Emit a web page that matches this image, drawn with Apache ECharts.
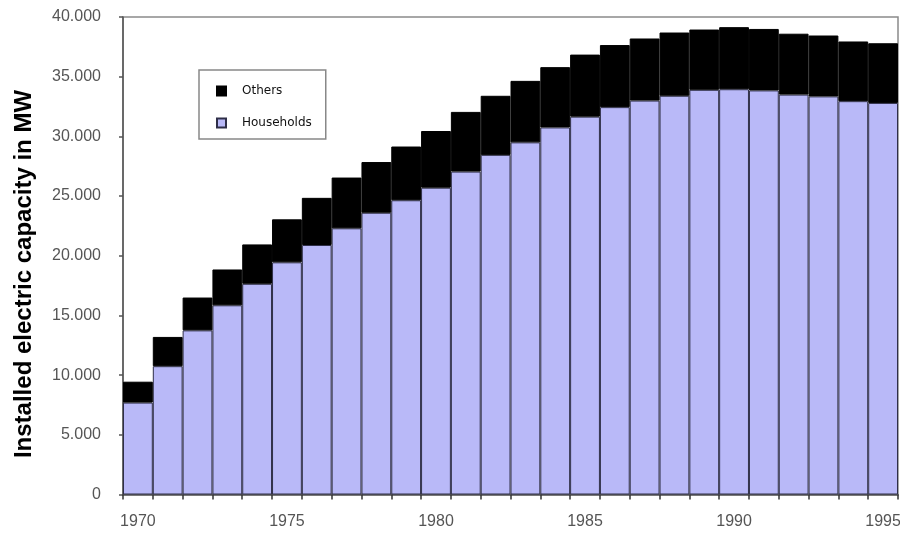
<!DOCTYPE html>
<html>
<head>
<meta charset="utf-8">
<script src="https://cdn.jsdelivr.net/npm/echarts@6/dist/echarts.min.js"></script>
<style>
html,body{margin:0;padding:0;background:#fff;}
#chart{width:900px;height:533px;}
</style>
</head>
<body>
<div id="chart"></div>
<script>
var years = ['1970','1971','1972','1973','1974','1975','1976','1977','1978','1979','1980','1981','1982','1983','1984','1985','1986','1987','1988','1989','1990','1991','1992','1993','1994','1995'];
var households = [7700,10750,13750,15850,17650,19450,20900,22300,23600,24650,25700,27050,28450,29500,30750,31650,32450,33000,33400,33900,33950,33850,33500,33350,32950,32800];
var others = [1750,2450,2750,3000,3300,3600,3950,4250,4250,4500,4750,5000,4950,5150,5050,5200,5200,5200,5300,5050,5200,5150,5100,5100,5000,5000];
var yTicks = {min: 0, max: 40000, interval: 5000};
var yTitle = 'Installed electric capacity in MW';

function fmt(v){
  if (v === 0) return '0';
  return Math.floor(v/1000) + '.' + String(v % 1000).padStart(3,'0');
}

var chart = echarts.init(document.getElementById('chart'), null, {renderer:'canvas'});
chart.setOption({
  animation: false,
  backgroundColor: '#fff',
  grid: {left: 123, right: 2, top: 17, bottom: 38.5, show: true, borderColor: '#8a8a8a', borderWidth: 1.5, backgroundColor: 'transparent', containLabel: false, outerBoundsMode: 'none'},
  graphic: [{
    type: 'text', x: 24, y: 274, rotation: Math.PI / 2,
    style: {text: yTitle, fill: '#000', font: 'bold 24px "Liberation Sans"', textAlign: 'center', textVerticalAlign: 'middle'}
  }],
  legend: {
    orient: 'vertical', left: 199, top: 70,
    data: ['Others','Households'],
    icon: 'rect', itemWidth: 9, itemHeight: 9, itemGap: 20,
    padding: [15, 14, 10, 17],
    borderColor: '#888', borderWidth: 1.5, backgroundColor: '#fff',
    textStyle: {fontFamily: 'DejaVu Sans', fontSize: 12, color: '#111', padding: [0,0,0,11]}
  },
  xAxis: {
    type: 'category', data: years, boundaryGap: true,
    axisLine: {lineStyle: {color: '#555', width: 1.5}},
    axisTick: {show: true, interval: 0, length: 5, lineStyle: {color: '#333', width: 1.5}},
    axisLabel: {interval: 4, margin: 19, fontFamily: 'Liberation Sans', fontSize: 16, color: '#555'},
    splitLine: {show: false}
  },
  yAxis: {
    type: 'value', min: yTicks.min, max: yTicks.max, interval: yTicks.interval,
    axisLine: {show: true, lineStyle: {color: '#555', width: 1.5}},
    axisTick: {show: true, length: 4, lineStyle: {color: '#555', width: 1.5}},
    axisLabel: {margin: 22, formatter: fmt, fontFamily: 'Liberation Sans', fontSize: 16, color: '#555'},
    splitLine: {show: false}
  },
  series: [
    {name: 'Households', type: 'bar', stack: 'cap', data: households, barCategoryGap: '0%',
     itemStyle: {color: '#b9b9f8', borderColor: '#2e2e48', borderWidth: 1}},
    {name: 'Others', type: 'bar', stack: 'cap', data: others, barCategoryGap: '0%',
     itemStyle: {color: '#000', borderColor: '#000', borderWidth: 1}}
  ]
});
</script>
</body>
</html>
